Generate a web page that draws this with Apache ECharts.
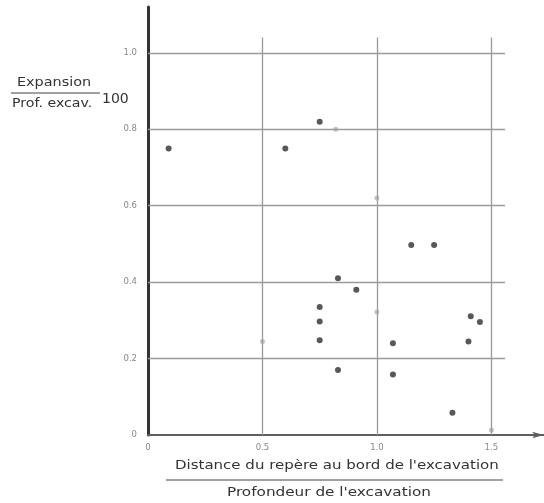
<!DOCTYPE html>
<html>
<head>
<meta charset="utf-8">
<script src="https://cdn.jsdelivr.net/npm/echarts@6/dist/echarts.min.js"></script>
<style>
html,body{margin:0;padding:0;background:#fff;}
#chart{width:544px;height:503px;}
</style>
</head>
<body>
<div id="chart"></div>
<script>
// Data
var pointsMain = [
  [0.09, 0.75], [0.60, 0.75], [0.75, 0.82],
  [0.83, 0.41], [0.91, 0.38],
  [0.75, 0.335], [0.75, 0.297], [0.75, 0.248],
  [0.83, 0.17],
  [1.07, 0.24], [1.07, 0.158],
  [1.15, 0.497], [1.25, 0.497],
  [1.33, 0.058],
  [1.40, 0.245], [1.41, 0.311], [1.45, 0.296]
];
var pointsFaint = [
  [0.82, 0.80], [1.00, 0.62], [0.50, 0.245], [1.00, 0.322], [1.50, 0.013]
];
var xTicks = [0, 0.5, 1.0, 1.5];
var xTickLabels = ['0', '0.5', '1.0', '1.5'];
var yTicks = [0, 0.2, 0.4, 0.6, 0.8, 1.0];
var yTickLabels = ['0', '0.2', '0.4', '0.6', '0.8', '1.0'];
var xTitle = "Distance du repère au bord de l'excavation";
var xTitle2 = "Profondeur de l'excavation";
var yTitleTop = 'Expansion';
var yTitleBottom = 'Prof. excav.';
var yTitleFactor = '100';

function labelFor(ticks, labels) {
  return function (v) {
    for (var i = 0; i < ticks.length; i++) {
      if (Math.abs(ticks[i] - v) < 1e-6) return labels[i];
    }
    return '';
  };
}

// grid lines (as segments through the data scale)
var gridLineData = [];
var HX = 1.56, VY = 1.04;
yTicks.forEach(function (t) {
  if (t > 0) gridLineData.push([{coord: [0, t]}, {coord: [HX, t]}]);
});
xTicks.forEach(function (t) {
  if (t > 0) gridLineData.push([{coord: [t, 0]}, {coord: [t, VY]}]);
});

var chart = echarts.init(document.getElementById('chart'), null, {renderer: 'canvas'});
var font = 'DejaVu Sans';
function txt(s, x, y, size, sx) {
  return {type: 'text', x: x, y: y, scaleX: sx, originX: 0, originY: 0,
    style: {text: s, font: size + 'px "DejaVu Sans"', fill: '#333', align: 'left', verticalAlign: 'middle'}};
}
chart.setOption({
  animation: false,
  backgroundColor: '#ffffff',
  grid: {left: 148, right: 0, top: 7, bottom: 68, containLabel: false},
  xAxis: {
    type: 'value', min: 0, max: 1.73, interval: 0.5,
    splitLine: {show: false},
    axisTick: {show: false},
    axisLine: {show: true, lineStyle: {color: '#5e5e5e', width: 2},
      symbol: ['none', 'arrow'], symbolSize: [5, 12]},
    axisLabel: {formatter: labelFor(xTicks, xTickLabels), color: '#888',
      fontSize: 8.5, fontFamily: font, margin: 8, showMaxLabel: false}
  },
  yAxis: {
    type: 'value', min: 0, max: 1.12, interval: 0.2,
    splitLine: {show: false},
    axisTick: {show: false},
    axisLine: {show: true, lineStyle: {color: '#333333', width: 3}},
    axisLabel: {formatter: labelFor(yTicks, yTickLabels), color: '#888',
      fontSize: 8.5, fontFamily: font, margin: 11, showMaxLabel: false}
  },
  series: [
    {
      type: 'scatter', name: 'faint', data: pointsFaint,
      symbol: 'circle', symbolSize: 5,
      itemStyle: {color: '#b5b5b5'}, z: 3,
      markLine: {
        silent: true, symbol: ['none', 'none'], label: {show: false},
        lineStyle: {color: '#9a9a9a', width: 1.3, type: 'solid'},
        emphasis: {disabled: true},
        data: gridLineData
      }
    },
    {
      type: 'scatter', name: 'main', data: pointsMain,
      symbol: 'circle', symbolSize: 6,
      itemStyle: {color: '#2e2e2e'}, z: 4
    }
  ],
  graphic: [
    txt(yTitleTop, 17, 83, 12, 1.2),
    {type: 'line', shape: {x1: 11, y1: 93, x2: 100, y2: 93}, style: {stroke: '#444', lineWidth: 1.2}},
    txt(yTitleBottom, 12, 104, 12, 1.18),
    txt(yTitleFactor, 102, 99, 14, 1.0),
    txt(xTitle, 175, 466, 12.5, 1.2),
    {type: 'line', shape: {x1: 166, y1: 480, x2: 503, y2: 480}, style: {stroke: '#444', lineWidth: 1.2}},
    txt(xTitle2, 227, 493, 12.5, 1.22)
  ]
});
</script>
</body>
</html>
